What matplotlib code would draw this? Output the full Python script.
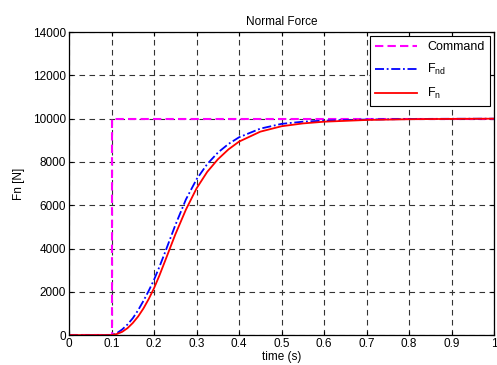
import matplotlib
matplotlib.use("Agg")
import matplotlib.pyplot as plt

# --- data ---
t_cmd = [0.0, 0.1, 0.1, 1.0]
f_cmd = [0, 0, 10000, 10000]

t_resp = [0.0, 0.1, 0.1125, 0.125, 0.1375, 0.15, 0.1625, 0.175, 0.1875, 0.2,
          0.2125, 0.225, 0.25, 0.275, 0.3, 0.325, 0.35, 0.375, 0.4, 0.45,
          0.5, 0.55, 0.6, 0.7, 0.8, 0.9, 1.0]
f_nd = [0, 0, 90, 260, 490, 780, 1150, 1580, 2050, 2560,
        3150, 3780, 5080, 6270, 7200, 7900, 8430, 8830, 9140, 9540,
        9760, 9860, 9910, 9960, 9985, 9995, 10000]
f_n = [0, 0, 50, 150, 320, 560, 860, 1230, 1670, 2170,
       2750, 3380, 4650, 5800, 6780, 7540, 8120, 8580, 8940, 9400,
       9650, 9780, 9860, 9940, 9975, 9990, 10000]

x_ticks = [0, 0.1, 0.2, 0.3, 0.4, 0.5, 0.6, 0.7, 0.8, 0.9, 1]
x_labels = ["0", "0.1", "0.2", "0.3", "0.4", "0.5", "0.6", "0.7", "0.8", "0.9", "1"]
y_ticks = [0, 2000, 4000, 6000, 8000, 10000, 12000, 14000]

plt.rcParams["font.family"] = ["Liberation Sans", "DejaVu Sans"]
plt.rcParams["mathtext.fontset"] = "custom"
plt.rcParams["mathtext.rm"] = "Liberation Sans"
plt.rcParams["mathtext.it"] = "Liberation Sans"

fig = plt.figure(figsize=(4.97, 3.65), dpi=100, facecolor="white")
ax = fig.add_axes([0.139, 0.082, 0.855, 0.830])

ax.plot(t_cmd, f_cmd, color="#FF00FF", linestyle=(0, (4, 2)), linewidth=1.5,
        label="Command")
ax.plot(t_resp, f_nd, color="#0000FF", linestyle=(0, (5, 1.5, 1, 1.5)),
        linewidth=1.3, label=r"F$_{\mathrm{nd}}$")
ax.plot(t_resp, f_n, color="#FF0000", linestyle="-", linewidth=1.3,
        label=r"F$_{\mathrm{n}}$")

ax.set_xlim(0, 1)
ax.set_ylim(0, 14000)
ax.set_xticks(x_ticks)
ax.set_xticklabels(x_labels)
ax.set_yticks(y_ticks)

ax.grid(True, color="0.2", linestyle=(0, (5, 4)), linewidth=0.8)
ax.tick_params(direction="in", top=True, right=True, labelsize=8.5,
               length=3, width=0.8, pad=2)
for spine in ax.spines.values():
    spine.set_linewidth(0.9)

ax.set_title("Normal Force", fontsize=8.5, pad=5)
ax.set_xlabel("time (s)", fontsize=8.5, labelpad=1)
ax.set_ylabel("Fn [N]", fontsize=8.5, labelpad=6)

leg = ax.legend(loc="upper right", fontsize=9, fancybox=False,
                framealpha=1, edgecolor="black", handlelength=3.4,
                borderaxespad=0.35, labelspacing=0.7)
leg.get_frame().set_linewidth(0.8)

fig.savefig("out.png", dpi=100, facecolor="white")
